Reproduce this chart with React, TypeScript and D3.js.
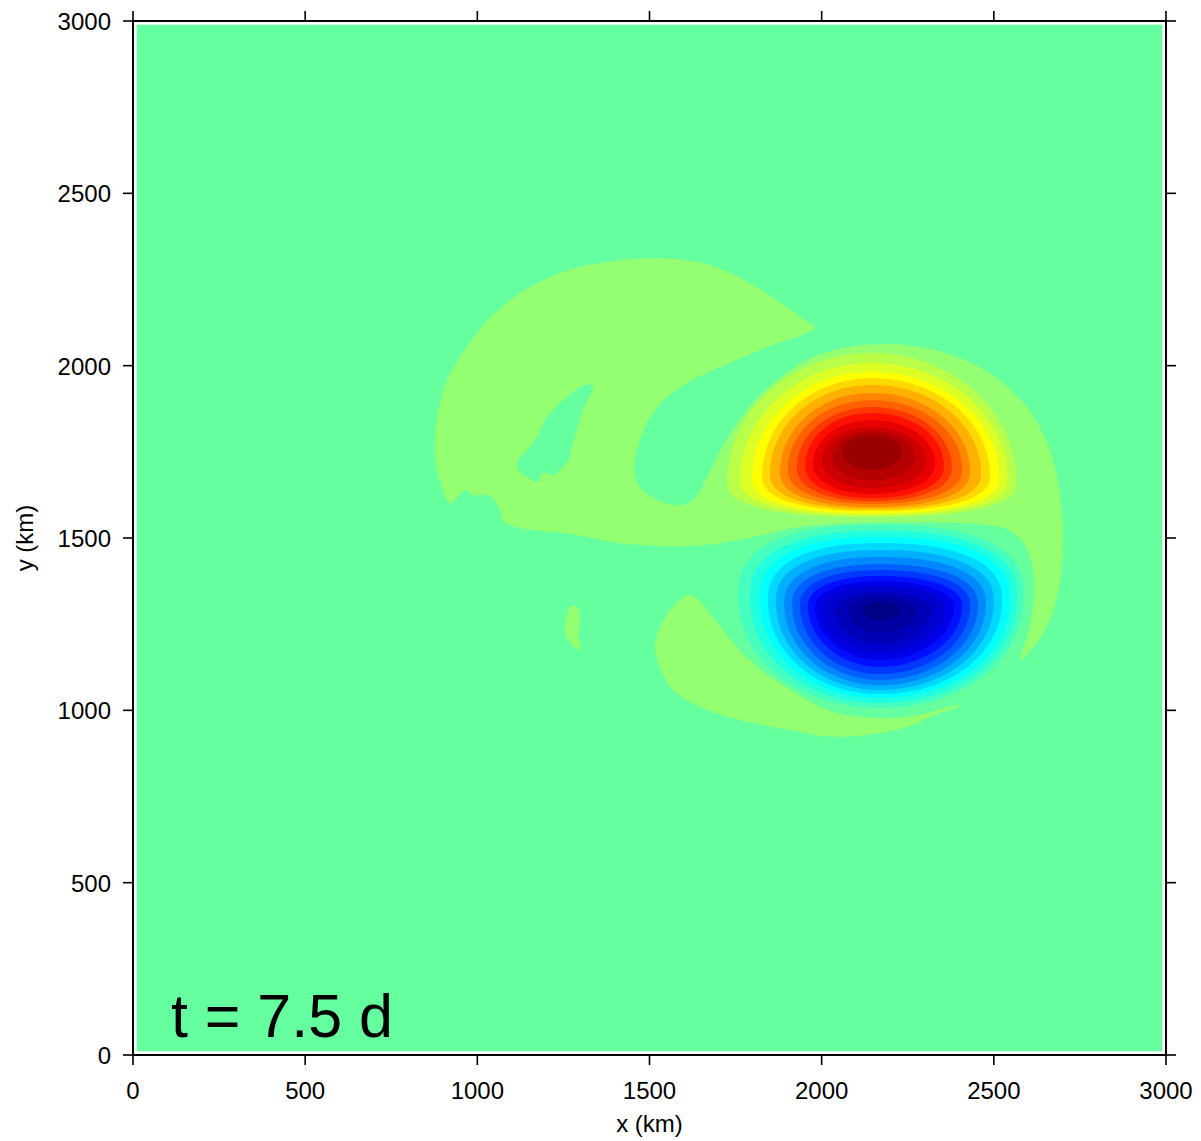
import React from 'react';
import * as d3 from 'd3';

const WIDTH = 1201;
const HEIGHT = 1141;
const PLOT = { left: 133, right: 1166, top: 21, bottom: 1055 };

// axes
const xDomain = [0, 3000];
const yDomain = [0, 3000];
const tickValues = [0, 500, 1000, 1500, 2000, 2500, 3000];
const xLabel = 'x (km)';
const yLabel = 'y (km)';
const timeLabel = 't = 7.5 d';
const gridExtent = [10, 2990]; // km, extent of the model grid

// colour levels
const backgroundColor = '#66ffa0';
const positiveColors = ['#94ff70', '#b9ff4a', '#dcff26', '#ffff00', '#ffd800', '#ffb000', '#ff8800',
  '#ff6000', '#ff3800', '#ff1000', '#e80000', '#cc0000', '#b40000', '#9a0000'];
const negativeColors = ['#46ffbe', '#20ffe0', '#00ffff', '#00d8ff', '#00b0ff', '#0088ff', '#0060ff',
  '#0038ff', '#0010ff', '#0000e8', '#0000d0', '#0000b8', '#0000a0', '#000084'];

// level +1 regions, outlines in km [x, y]
const plusOneUpper = [
  [921, 1601], [895, 1654], [880, 1712], [877, 1764], [880, 1828], [892, 1895], [915, 1964], [950, 2025],
  [987, 2080], [1028, 2130], [1075, 2173], [1124, 2211], [1182, 2243], [1240, 2269], [1307, 2289],
  [1377, 2301], [1443, 2309], [1510, 2312], [1583, 2309], [1655, 2298], [1728, 2272], [1801, 2234],
  [1856, 2199], [1908, 2164], [1952, 2132], [1981, 2109],
  [1937, 2086], [1865, 2063], [1801, 2037], [1705, 1996], [1609, 1950], [1536, 1895], [1490, 1828],
  [1464, 1755], [1455, 1697], [1472, 1648], [1507, 1619], [1554, 1599], [1597, 1596], [1626, 1610],
  [1653, 1648], [1679, 1703], [1711, 1764], [1757, 1837], [1806, 1900], [1867, 1955], [1946, 2011],
  [2024, 2042], [2097, 2057],
  [2184, 2063], [2286, 2054], [2387, 2028], [2474, 1987], [2547, 1932], [2605, 1868], [2649, 1790],
  [2678, 1703], [2695, 1601], [2701, 1494], [2695, 1393], [2678, 1306], [2649, 1233], [2614, 1181],
  [2576, 1146],
  [2593, 1204], [2611, 1277], [2617, 1349], [2611, 1422], [2593, 1474], [2561, 1512], [2518, 1532],
  [2402, 1543], [2228, 1546], [2082, 1543], [1937, 1532], [1850, 1514], [1786, 1500], [1705, 1485],
  [1609, 1477], [1414, 1485], [1269, 1512], [1124, 1529], [1075, 1549], [1063, 1587], [1037, 1622],
  [987, 1625], [964, 1639],
];
const plusOneHole = [
  [1336, 1944], [1298, 1938], [1260, 1909], [1202, 1851], [1173, 1793], [1144, 1755], [1124, 1735],
  [1115, 1706], [1144, 1677], [1173, 1662], [1191, 1689], [1220, 1683], [1260, 1718], [1278, 1776],
  [1307, 1871],
];
const plusOneLower = [
  [1618, 1335], [1684, 1271], [1743, 1195], [1812, 1126], [1879, 1079], [1957, 1030], [2033, 995],
  [2149, 978], [2248, 981], [2306, 992], [2381, 1013], [2410, 1015], [2344, 992], [2248, 952],
  [2149, 931], [2033, 923], [1908, 943], [1763, 972], [1647, 1010], [1568, 1059], [1530, 1126],
  [1516, 1184], [1530, 1242], [1568, 1300],
];
const plusOneSpeck = [
  [1269, 1300], [1289, 1303], [1298, 1277], [1295, 1204], [1301, 1190], [1292, 1175], [1275, 1190],
  [1255, 1219], [1257, 1262],
];

// dipole lobes: [level, left, right, top, bottom, y of widest extent] in km
const redCenterX = 2146;
const redRings = [
  [2, 1725, 2565, 2037, 1561, 1662],
  [3, 1763, 2540, 2008, 1567, 1668],
  [4, 1798, 2515, 1982, 1572, 1674],
  [5, 1827, 2489, 1964, 1578, 1680],
  [6, 1850, 2463, 1944, 1584, 1686],
  [7, 1879, 2431, 1921, 1590, 1691],
  [8, 1902, 2408, 1900, 1599, 1697],
  [9, 1928, 2378, 1880, 1607, 1703],
  [10, 1952, 2355, 1863, 1616, 1709],
  [11, 1975, 2329, 1842, 1628, 1715],
  [12, 2001, 2303, 1822, 1645, 1723],
  [13, 2030, 2271, 1810, 1668, 1735],
  [14, 2059, 2233, 1799, 1697, 1750],
];
const blueCenterX = 2169;
const blueRings = [
  [-1, 1757, 2587, 1538, 1007, 1335],
  [-2, 1792, 2567, 1520, 1021, 1329],
  [-3, 1821, 2547, 1503, 1036, 1326],
  [-4, 1844, 2524, 1485, 1047, 1320],
  [-5, 1867, 2500, 1465, 1059, 1317],
  [-6, 1891, 2477, 1445, 1073, 1311],
  [-7, 1914, 2454, 1424, 1088, 1308],
  [-8, 1937, 2431, 1407, 1105, 1306],
  [-9, 1960, 2408, 1390, 1126, 1303],
  [-10, 1981, 2384, 1375, 1146, 1300],
  [-11, 2001, 2358, 1361, 1169, 1297],
  [-12, 2039, 2320, 1343, 1192, 1294],
  [-13, 2077, 2280, 1329, 1224, 1291],
  [-14, 2120, 2228, 1314, 1262, 1291],
];

const FONT = '"Liberation Sans", Arial, Helvetica, sans-serif';

function levelColor(level: number) {
  if (level > 0) return positiveColors[level - 1];
  if (level < 0) return negativeColors[-level - 1];
  return backgroundColor;
}

// points of a ring made of four super-elliptic quadrants joining the extremes
function ringPoints(xc: number, ring: number[], nTop: number, nBot: number) {
  const [, L, R, T, B, ym] = ring;
  const pts: [number, number][] = [];
  const N = 40;
  for (let q = 0; q < 4; q++) {
    for (let i = 0; i < N; i++) {
      const th = (q * Math.PI) / 2 + (i / N) * (Math.PI / 2);
      const c = Math.cos(th);
      const s = Math.sin(th);
      const top = s >= 0;
      const n = top ? nTop : nBot;
      const ax = c >= 0 ? R - xc : xc - L;
      const by = top ? T - ym : ym - B;
      const px = xc + Math.sign(c) * ax * Math.pow(Math.abs(c), 2 / n);
      const py = ym + Math.sign(s) * by * Math.pow(Math.abs(s), 2 / n);
      pts.push([px, py]);
    }
  }
  return pts;
}

export default function App() {
  const x = d3.scaleLinear().domain(xDomain).range([PLOT.left, PLOT.right]);
  const y = d3.scaleLinear().domain(yDomain).range([PLOT.bottom, PLOT.top]);

  const smooth = d3
    .line<number[]>()
    .x((d) => x(d[0]))
    .y((d) => y(d[1]))
    .curve(d3.curveCatmullRomClosed.alpha(0.5));
  const straight = d3
    .line<number[]>()
    .x((d) => x(d[0]))
    .y((d) => y(d[1]))
    .curve(d3.curveLinearClosed);

  const gx0 = x(gridExtent[0]);
  const gx1 = x(gridExtent[1]);
  const gy0 = y(gridExtent[1]);
  const gy1 = y(gridExtent[0]);

  const redPaths = redRings.map((r, i) => {
    const t = i / (redRings.length - 1);
    return { level: r[0], d: straight(ringPoints(redCenterX, r, 2.0 + 0.05 * t, 2.5 - 0.5 * t)) };
  });
  const bluePaths = blueRings.map((r, i) => {
    const t = i / (blueRings.length - 1);
    return { level: r[0], d: straight(ringPoints(blueCenterX, r, 2.5 - 0.5 * t, 2.1 - 0.2 * t)) };
  });

  return (
    <div style={{ position: 'absolute', left: 0, top: 0 }}>
      <svg width={WIDTH} height={HEIGHT} style={{ display: 'block', background: '#fff' }}>
        <defs>
          <clipPath id="grid-clip">
            <rect x={gx0} y={gy0} width={gx1 - gx0} height={gy1 - gy0} />
          </clipPath>
        </defs>
        <g clipPath="url(#grid-clip)">
          <rect x={gx0} y={gy0} width={gx1 - gx0} height={gy1 - gy0} fill={backgroundColor} />
          <path d={(smooth(plusOneUpper) || '') + (smooth(plusOneHole) || '')} fill={levelColor(1)} fillRule="evenodd" />
          <path d={smooth(plusOneLower) || ''} fill={levelColor(1)} />
          <path d={smooth(plusOneSpeck) || ''} fill={levelColor(1)} />
          {bluePaths.map((p) => (
            <path key={'b' + p.level} d={p.d || ''} fill={levelColor(p.level)} />
          ))}
          {redPaths.map((p) => (
            <path key={'r' + p.level} d={p.d || ''} fill={levelColor(p.level)} />
          ))}
        </g>
        <text x={x(110)} y={1037} fontFamily={FONT} fontSize={61} fill="#000">
          {timeLabel}
        </text>
        {/* frame */}
        <rect
          x={PLOT.left}
          y={PLOT.top}
          width={PLOT.right - PLOT.left}
          height={PLOT.bottom - PLOT.top}
          fill="none"
          stroke="#000"
          strokeWidth={2}
        />
        {/* ticks */}
        <g stroke="#000" strokeWidth={1.6}>
          {tickValues.map((v) => (
            <g key={'t' + v}>
              <line x1={x(v)} x2={x(v)} y1={PLOT.bottom} y2={PLOT.bottom + 10} />
              <line x1={x(v)} x2={x(v)} y1={PLOT.top} y2={PLOT.top - 10} />
              <line x1={PLOT.left} x2={PLOT.left - 10} y1={y(v)} y2={y(v)} />
              <line x1={PLOT.right} x2={PLOT.right + 10} y1={y(v)} y2={y(v)} />
            </g>
          ))}
        </g>
        <g fontFamily={FONT} fontSize={24} fill="#000">
          {tickValues.map((v) => (
            <text key={'xl' + v} x={x(v)} y={PLOT.bottom + 44} textAnchor="middle">
              {v}
            </text>
          ))}
          {tickValues.map((v) => (
            <text key={'yl' + v} x={PLOT.left - 22} y={y(v) + 9} textAnchor="end">
              {v}
            </text>
          ))}
          <text x={(PLOT.left + PLOT.right) / 2} y={1132} textAnchor="middle">
            {xLabel}
          </text>
          <text
            transform={`translate(33, ${(PLOT.top + PLOT.bottom) / 2}) rotate(-90)`}
            textAnchor="middle"
          >
            {yLabel}
          </text>
        </g>
      </svg>
    </div>
  );
}
